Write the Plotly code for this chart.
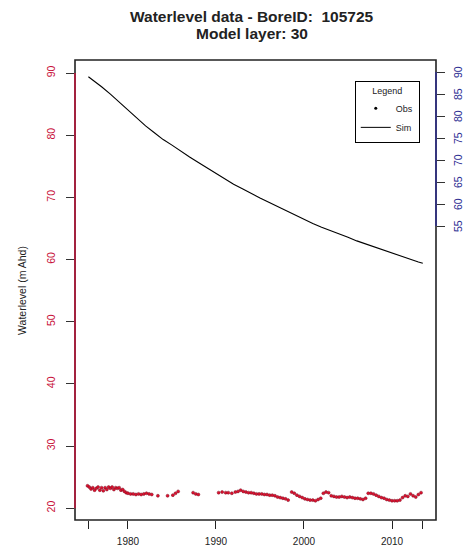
import plotly.graph_objects as go

# ---------------- data ----------------
sim_year = [1975.5, 1976, 1977, 1978, 1979, 1980, 1981, 1982, 1983, 1984, 1985, 1986,
            1987, 1988, 1989, 1990, 1991, 1992, 1993, 1994, 1995, 1996, 1997, 1998,
            1999, 2000, 2001, 2002, 2003, 2004, 2005, 2006, 2007, 2008, 2009, 2010,
            2011, 2012, 2013, 2013.5]
sim_level = [89.4, 88.9, 87.8, 86.6, 85.3, 84.0, 82.7, 81.5, 80.4, 79.3, 78.4, 77.4,
             76.5, 75.6, 74.7, 73.8, 72.9, 72.1, 71.4, 70.6, 69.9, 69.2, 68.5, 67.8,
             67.1, 66.4, 65.8, 65.2, 64.7, 64.1, 63.6, 63.0, 62.5, 62.0, 61.5, 61.0,
             60.5, 60.1, 59.6, 59.4]

obs_year = [1975.4, 1975.6, 1975.8, 1976.0, 1976.2, 1976.4, 1976.6, 1976.8, 1977.0, 1977.2,
            1977.4, 1977.6, 1977.8, 1978.0, 1978.2, 1978.4, 1978.6, 1978.8, 1979.0, 1979.2,
            1979.4, 1979.6, 1979.8, 1980.0, 1980.3, 1980.6, 1980.9, 1981.2, 1981.5, 1981.8,
            1982.1, 1982.4, 1982.7, 1983.4, 1984.5, 1985.1, 1985.4, 1985.7, 1987.4, 1987.7,
            1988.0, 1990.3, 1990.7, 1991.1, 1991.4, 1991.8, 1992.2, 1992.5, 1992.8, 1993.1,
            1993.4, 1993.7, 1994.0, 1994.3, 1994.6, 1994.9, 1995.2, 1995.5, 1995.8, 1996.1,
            1996.4, 1996.7, 1997.0, 1997.3, 1997.6, 1997.9, 1998.2, 1998.6, 1998.9, 1999.2,
            1999.5, 1999.8, 2000.1, 2000.4, 2000.7, 2001.0, 2001.3, 2001.6, 2001.9, 2002.2,
            2002.5, 2002.8, 2003.1, 2003.4, 2003.7, 2004.0, 2004.3, 2004.6, 2004.9, 2005.2,
            2005.5, 2005.8, 2006.1, 2006.4, 2006.7, 2007.0, 2007.3, 2007.6, 2007.9, 2008.2,
            2008.5, 2008.8, 2009.1, 2009.4, 2009.7, 2010.0, 2010.3, 2010.6, 2010.9, 2011.2,
            2011.5, 2011.8, 2012.1, 2012.4, 2012.7, 2013.0, 2013.3]
obs_level = [23.6, 23.4, 23.1, 23.3, 22.9, 23.2, 23.4, 22.9, 23.3, 22.8,
             23.3, 23.0, 23.4, 23.2, 23.4, 23.0, 23.3, 23.2, 23.3, 22.9,
             23.0, 22.7, 22.5, 22.4, 22.3, 22.3, 22.2, 22.3, 22.2, 22.3,
             22.4, 22.3, 22.2, 22.0, 22.0, 22.1, 22.4, 22.7, 22.5, 22.3,
             22.2, 22.5, 22.6, 22.5, 22.5, 22.4, 22.6, 22.7, 22.9, 22.7,
             22.6, 22.5, 22.5, 22.4, 22.3, 22.3, 22.3, 22.2, 22.2, 22.1,
             22.1, 22.0, 21.8, 21.7, 21.6, 21.5, 21.3, 22.6, 22.4, 22.1,
             21.9, 21.7, 21.5, 21.4, 21.3, 21.3, 21.2, 21.4, 21.6, 22.4,
             22.6, 22.5, 22.0, 21.9, 21.8, 21.8, 21.9, 21.8, 21.7, 21.8,
             21.7, 21.6, 21.6, 21.5, 21.4, 21.6, 22.4, 22.4, 22.3, 22.1,
             21.9, 21.7, 21.6, 21.4, 21.3, 21.2, 21.2, 21.2, 21.3, 21.7,
             22.0, 21.9, 22.3, 22.0, 21.8, 22.2, 22.5]

x_tickvals = [1975.5, 1980, 1990, 2000, 2010, 2013.5]
x_ticktext = ["", "1980", "1990", "2000", "2010", ""]
left_ticks = [20, 30, 40, 50, 60, 70, 80, 90]
right_ticks = [55, 60, 65, 70, 75, 80, 85, 90]
title_lines = ["Waterlevel data - BoreID:  105725", "Model layer: 30"]

RED = "#c8103a"
BLUE = "#2c2c92"
FONT = "Liberation Sans, Arial, sans-serif"

fig = go.Figure()

fig.add_trace(go.Scatter(
    x=obs_year, y=obs_level, mode="markers", showlegend=False,
    marker=dict(size=3, color="#e0102e", line=dict(width=0.5, color="#7a1025")),
))
fig.add_trace(go.Scatter(
    x=sim_year, y=sim_level, mode="lines", showlegend=False,
    line=dict(color="black", width=1.1),
))
# legend entries (legend shows black symbols)
fig.add_trace(go.Scatter(x=[None], y=[None], mode="markers", name="Obs",
                         marker=dict(size=3, color="black")))
fig.add_trace(go.Scatter(x=[None], y=[None], mode="lines", name="Sim",
                         line=dict(color="black", width=1)))
# dummy trace for the right axis
fig.add_trace(go.Scatter(x=[None], y=[None], yaxis="y2", showlegend=False))

# right-axis tick labels, placed on the y2 scale
right_labels = [
    dict(text=str(v), xref="paper", yref="y2", x=1.061, y=v,
         xanchor="center", yanchor="middle", textangle=-90, showarrow=False,
         font=dict(size=10.5, color=BLUE))
    for v in right_ticks
]

fig.update_layout(
    width=464, height=555,
    margin=dict(l=75, r=28, t=60, b=35, autoexpand=False),
    paper_bgcolor="white", plot_bgcolor="white",
    font=dict(family=FONT, size=10, color="black"),
    xaxis=dict(
        range=[1973.98, 2015.0], tickvals=x_tickvals, ticktext=x_ticktext,
        ticks="outside", ticklen=8, tickcolor="#222", tickwidth=1,
        showgrid=False, zeroline=False, showline=False, automargin=False,
        tickfont=dict(size=10, color="#222"), ticklabelstandoff=4,
    ),
    yaxis=dict(
        range=[18.1, 92.1], tickvals=left_ticks, automargin=False,
        ticks="outside", ticklen=8, tickcolor="#333", tickwidth=1,
        tickangle=-90, tickfont=dict(size=10.5, color=RED), ticklabelstandoff=7,
        showgrid=False, zeroline=False, showline=False,
    ),
    yaxis2=dict(
        overlaying="y", side="right", range=[-11.82, 92.73], tickvals=right_ticks,
        automargin=False, showticklabels=False,
        ticks="outside", ticklen=8, tickcolor="#333", tickwidth=1,
        showgrid=False, zeroline=False, showline=False,
    ),
    legend=dict(
        x=0.955, y=0.954, xanchor="right", yanchor="top",
        bgcolor="white", bordercolor="black", borderwidth=1,
        font=dict(size=9, color="#222"),
        title=dict(text="Legend", side="top center", font=dict(size=9, color="#222")),
        tracegroupgap=0, itemwidth=30,
    ),
    shapes=[
        dict(type="rect", xref="paper", yref="paper", x0=0, x1=1, y0=0, y1=1,
             line=dict(color="#222", width=1.6), layer="above"),
        dict(type="line", xref="paper", yref="y", x0=0, x1=0, y0=20, y1=90,
             line=dict(color=RED, width=1.4), layer="above"),
        dict(type="line", xref="paper", yref="y2", x0=1, x1=1, y0=55, y1=90,
             line=dict(color=BLUE, width=1.4), layer="above"),
    ],
    annotations=[
        dict(text="<b>%s</b>" % title_lines[0], xref="paper", yref="paper",
             x=0.49, y=(520 - 16) / 460, xanchor="center", yanchor="middle",
             showarrow=False, font=dict(size=15.5, color="#222")),
        dict(text="<b>%s</b>" % title_lines[1], xref="paper", yref="paper",
             x=0.49, y=(520 - 33) / 460, xanchor="center", yanchor="middle",
             showarrow=False, font=dict(size=15.5, color="#222")),
        dict(text="Waterlevel (m Ahd)", xref="paper", yref="paper",
             x=-0.147, y=0.5, xanchor="center", yanchor="middle",
             textangle=-90, showarrow=False, font=dict(size=10.5, color="#222")),
    ] + right_labels,
)

fig.write_html(
    "out.html",
    config={"displayModeBar": False},
    post_script="document.body.style.margin='0';document.body.style.padding='0';",
)
